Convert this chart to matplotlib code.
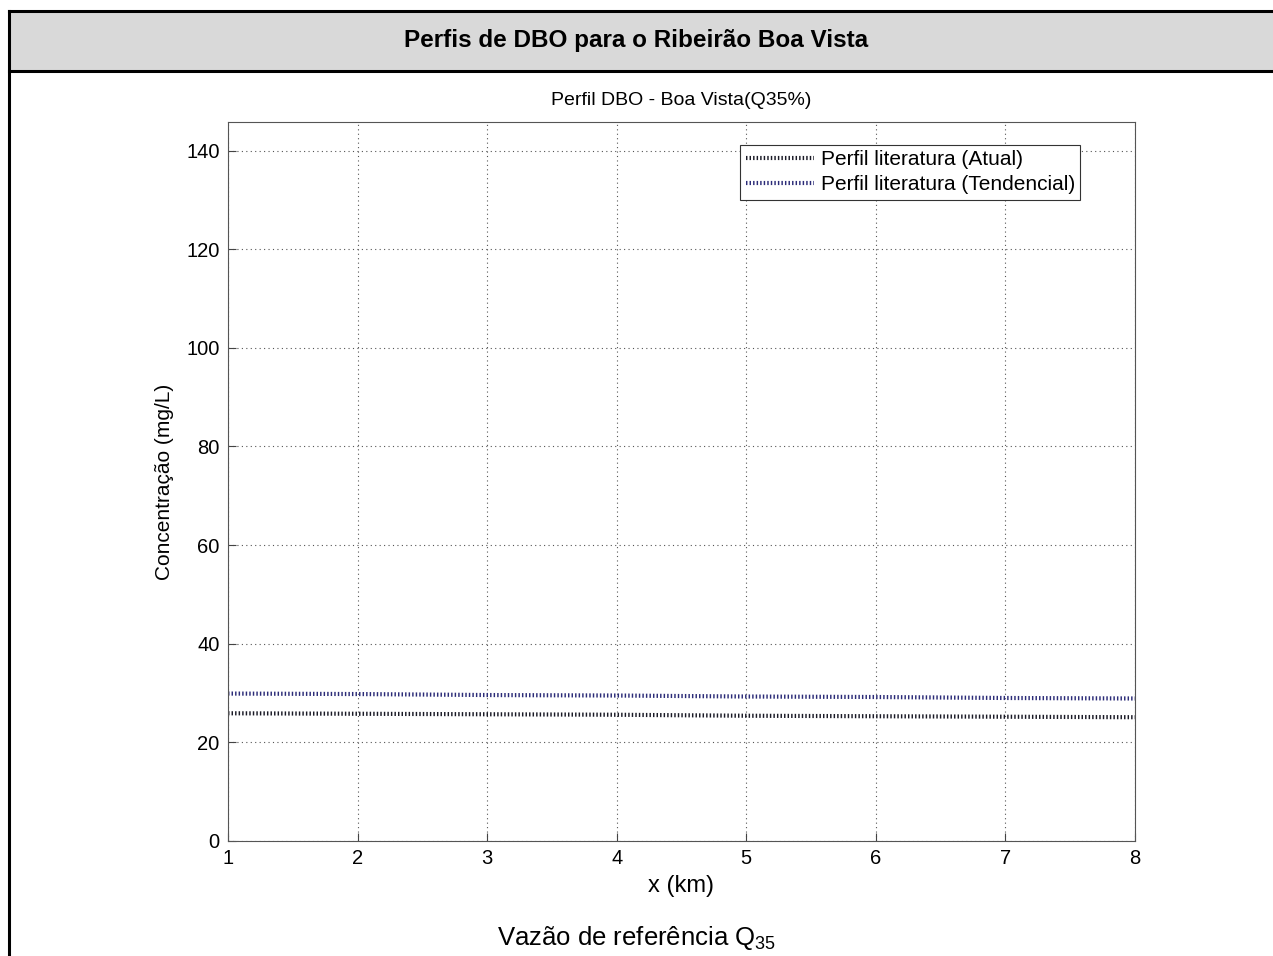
import matplotlib.pyplot as plt
from matplotlib.patches import Rectangle
from matplotlib.lines import Line2D

plt.rcParams['font.family'] = ['Liberation Sans', 'DejaVu Sans']
plt.rcParams['mathtext.fontset'] = 'custom'
plt.rcParams['mathtext.rm'] = 'Liberation Sans'
plt.rcParams['mathtext.it'] = 'Liberation Sans:italic'

# dados
x_km = [1, 2, 3, 4, 5, 6, 7, 8]
dbo_atual = [25.9, 25.8, 25.7, 25.6, 25.4, 25.3, 25.2, 25.1]
dbo_tendencial = [29.9, 29.8, 29.6, 29.5, 29.3, 29.2, 29.0, 28.9]
yticks = [0, 20, 40, 60, 80, 100, 120, 140]

fig = plt.figure(figsize=(12.73, 9.56), dpi=100)

# moldura / cabeçalho
fig.patches.append(Rectangle((9 / 1273, 1 - 71 / 956), 1 - 9 / 1273, 60 / 956,
                             transform=fig.transFigure, facecolor='#d9d9d9',
                             edgecolor='none', zorder=0))
for y in [1 - 11 / 956, 1 - 71 / 956]:
    fig.lines.append(Line2D([9 / 1273, 1], [y, y], transform=fig.transFigure,
                            color='black', lw=2.2))
fig.lines.append(Line2D([9 / 1273, 9 / 1273], [0, 1 - 11 / 956],
                        transform=fig.transFigure, color='black', lw=2.2))
fig.text(0.5, 1 - 41 / 956, 'Perfis de DBO para o Ribeirão Boa Vista',
         ha='center', va='center', fontsize=17.5, fontweight='bold')

ax = fig.add_axes([228 / 1273, 1 - 841 / 956, 907 / 1273, 719 / 956])

dash = (0, (0.35, 0.5))
ax.plot(x_km, dbo_atual, color='#1a1a26', lw=3.0, linestyle=dash,
        dash_capstyle='butt', label='Perfil literatura (Atual)')
ax.plot(x_km, dbo_tendencial, color='#2c2c78', lw=3.0, linestyle=dash,
        dash_capstyle='butt', label='Perfil literatura (Tendencial)')

ax.set_xlim(1, 8)
ax.set_ylim(0, 145.8)
ax.set_yticks(yticks)
ax.set_xticks(x_km)
ax.tick_params(direction='in', length=6, labelsize=14.5, color='#444444', pad=6)
ax.grid(True, linestyle=(0, (1, 3)), color='#555555', lw=0.8)
for s in ax.spines.values():
    s.set_color('#555555')

ax.set_title('Perfil DBO - Boa Vista(Q35%)', fontsize=14, pad=12)
ax.set_xlabel('x (km)', fontsize=17, labelpad=5)
ax.set_ylabel('Concentração (mg/L)', fontsize=15, labelpad=9)

leg = ax.legend(loc='upper right', fontsize=15, fancybox=False, framealpha=1,
                edgecolor='#333333', borderpad=0.25, handlelength=3.3,
                handletextpad=0.3, labelspacing=0.3, borderaxespad=0,
                bbox_to_anchor=(852 / 907, 1 - 23 / 719))
leg.get_frame().set_linewidth(0.8)

fig.text(0.5, 1 - 938 / 956, 'Vazão de referência Q$_{35}$', ha='center',
         va='center', fontsize=18.5)

fig.savefig('out.png', dpi=100)
